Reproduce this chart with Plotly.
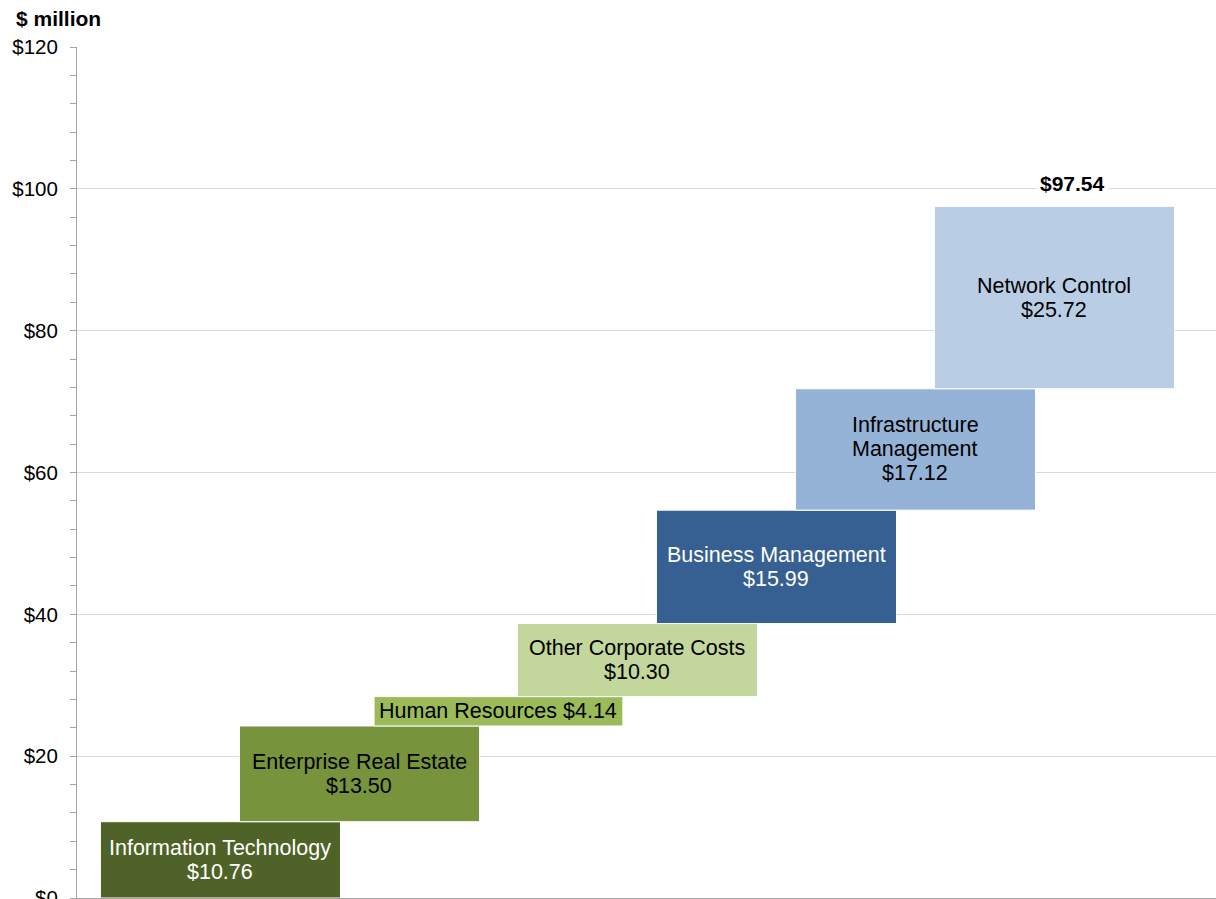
import plotly.graph_objects as go
import numpy as np

categories = ["Information Technology", "Enterprise Real Estate", "Human Resources",
              "Other Corporate Costs", "Business Management", "Infrastructure Management",
              "Network Control"]
label_text = ["Information Technology<br>$10.76", "Enterprise Real Estate<br>$13.50",
              "Human Resources $4.14", "Other Corporate Costs<br>$10.30",
              "Business Management<br>$15.99", "Infrastructure<br>Management<br>$17.12",
              "Network Control<br>$25.72"]
values = [10.76, 13.50, 4.14, 10.30, 15.99, 17.12, 25.72]
total_label = "$97.54"
colors = ["#4f6228", "#77933c", "#9bbb59", "#c3d69b", "#376092", "#95b3d7", "#b9cde5"]
text_colors = ["white", "black", "black", "black", "white", "black", "black"]
widths = [1.727, 1.727, 1.79, 1.727, 1.727, 1.727, 1.727]

pos = list(range(len(values)))
bases = list(np.concatenate([[0], np.cumsum(values)[:-1]]))

FONT = "Arial, Liberation Sans, sans-serif"
LINE_H = 24

fig = go.Figure()
fig.add_trace(go.Bar(
    x=pos, y=values, base=bases, width=widths,
    marker=dict(color=colors, line=dict(color="white", width=1)),
    hoverinfo="skip", showlegend=False,
))

annotations = []
for p, b, v, t, c in zip(pos, bases, values, label_text, text_colors):
    lines = t.split("<br>")
    n = len(lines)
    for i, ln in enumerate(lines):
        annotations.append(dict(x=p, y=b + v / 2, xref="x", yref="y", text=ln, showarrow=False,
                                yshift=((n - 1) / 2 - i) * LINE_H,
                                font=dict(family=FONT, size=21.5, color=c), align="center"))
annotations.append(dict(x=pos[-1] + 0.13, y=bases[-1] + values[-1] + 1.1, xref="x", yref="y",
                        text="<b>" + total_label + "</b>", showarrow=False, yanchor="bottom",
                        bgcolor="white", borderpad=3,
                        font=dict(family=FONT, size=21, color="black")))
annotations.append(dict(x=(14 - 77) / 1139, y=1 + (47 - 19) / 851, xref="paper", yref="paper",
                        text="<b>$ million</b>", showarrow=False, xanchor="left", yanchor="middle",
                        font=dict(family=FONT, size=21, color="black")))

fig.update_layout(
    width=1216, height=899,
    margin=dict(l=77, r=0, t=47, b=1),
    paper_bgcolor="white", plot_bgcolor="white",
    annotations=annotations,
    xaxis=dict(range=[-1.032, 7.162], showticklabels=False, showgrid=False, zeroline=False,
               showline=True, linecolor="#a6a6a6", ticks="", automargin=False),
    yaxis=dict(range=[0, 120], dtick=20, tickprefix="$", showgrid=True, gridcolor="#d9d9d9",
               gridwidth=1, zeroline=False, showline=True, linecolor="#a6a6a6", linewidth=1,
               ticks="outside", ticklen=6, tickcolor="#a6a6a6", ticklabelstandoff=8,
               ticklabeloverflow="allow", automargin=False,
               tickfont=dict(family=FONT, size=20.5, color="black"),
               minor=dict(dtick=4, ticks="outside", ticklen=6, tickcolor="#a6a6a6", showgrid=False)),
    font=dict(family=FONT),
)

fig.write_html("out.html")
